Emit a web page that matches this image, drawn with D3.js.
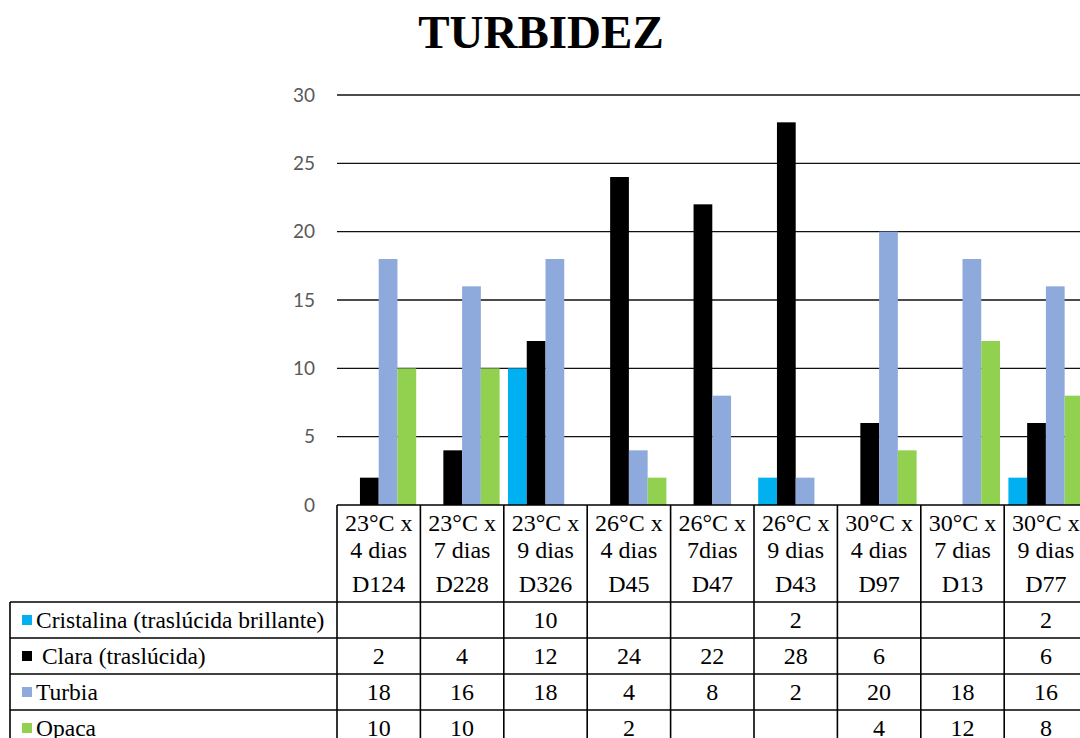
<!DOCTYPE html>
<html>
<head>
<meta charset="utf-8">
<script src="https://cdn.jsdelivr.net/npm/d3@7"></script>
<style>
  body { margin: 0; background: #fff; }
  svg { display: block; }
  .serif { font-family: "Liberation Serif", "Times New Roman", serif; }
</style>
</head>
<body>
<div id="chart"></div>
<script>
// TURBIDEZ - clustered columns with data table below

const categories = ["D124", "D228", "D326", "D45", "D47", "D43", "D97", "D13", "D77"];
const catLine1 = ["23°C x", "23°C x", "23°C x", "26°C x", "26°C x", "26°C x", "30°C x", "30°C x", "30°C x"];
const catLine2 = ["4 dias", "7 dias", "9 dias", "4 dias", "7dias", "9 dias", "4 dias", "7 dias", "9 dias"];

const seriesNames = ["Cristalina (traslúcida brillante)", " Clara (traslúcida)", "Turbia", "Opaca"];
const seriesColors = ["#00B0F0", "#000000", "#8EA9DB", "#92D050"];

const cristalina = [null, null, 10, null, null, 2, null, null, 2];
const clara = [2, 4, 12, 24, 22, 28, 6, null, 6];
const turbia = [18, 16, 18, 4, 8, 2, 20, 18, 16];
const opaca = [10, 10, null, 2, null, null, 4, 12, 8];

const yTicks = [0, 5, 10, 15, 20, 25, 30];

const seriesValues = [cristalina, clara, turbia, opaca];

const width = 1080, height = 738;
const plotLeft = 337, catStep = 83.4;
const plotTop = 95, plotBottom = 505;
const headerBottom = 602, rowH = 36;
const tableLeft = 10;

const svg = d3.select("#chart")
  .append("svg")
  .attr("width", width)
  .attr("height", height);

// ---------- Scales ----------
const x0 = d3.scaleBand()
  .domain(categories)
  .range([plotLeft, plotLeft + catStep * categories.length])
  .padding(0);

const x1 = d3.scaleBand()
  .domain(d3.range(seriesNames.length))
  .range([4.2, catStep - 4.2])
  .padding(0);

const y = d3.scaleLinear()
  .domain([0, 30])
  .range([plotBottom, plotTop]);

// ---------- Title ----------
svg.append("text")
  .attr("class", "serif")
  .attr("x", 541)
  .attr("y", 48)
  .attr("text-anchor", "middle")
  .style("font-weight", "bold")
  .style("font-size", "47px")
  .text("TURBIDEZ");

// ---------- Gridlines + Y labels ----------
const yAxis = d3.axisLeft(y)
  .tickValues(yTicks)
  .tickSize(0)
  .tickPadding(22);

const yg = svg.append("g")
  .attr("transform", `translate(${plotLeft},0)`)
  .call(yAxis);
yg.select(".domain").remove();
yg.selectAll("text")
  .style("font-family", "Lato, 'Open Sans', sans-serif")
  .style("font-size", "19px")
  .attr("fill", "#595959");

svg.append("g")
  .selectAll("line")
  .data(yTicks.filter(d => d > 0))
  .enter()
  .append("line")
  .attr("x1", plotLeft)
  .attr("x2", width)
  .attr("y1", d => y(d))
  .attr("y2", d => y(d))
  .attr("stroke", "#111")
  .attr("stroke-width", 1.4);

// ---------- Bars ----------
const barData = [];
seriesValues.forEach((vals, s) => {
  vals.forEach((v, i) => {
    if (v != null) barData.push({ s, cat: categories[i], v });
  });
});

svg.append("g")
  .selectAll("rect")
  .data(barData)
  .enter()
  .append("rect")
  .attr("x", d => x0(d.cat) + x1(d.s))
  .attr("width", x1.bandwidth())
  .attr("y", d => y(d.v))
  .attr("height", d => y(0) - y(d.v))
  .attr("fill", d => seriesColors[d.s]);

// ---------- Data table ----------
const table = svg.append("g");

const tableRight = x0.range()[1];
const lastRowBottom = headerBottom + rowH * seriesNames.length;

// horizontal lines
table.append("line")
  .attr("x1", plotLeft).attr("x2", tableRight)
  .attr("y1", plotBottom).attr("y2", plotBottom);
d3.range(seriesNames.length + 1).forEach(r => {
  table.append("line")
    .attr("x1", tableLeft).attr("x2", tableRight)
    .attr("y1", headerBottom + r * rowH).attr("y2", headerBottom + r * rowH);
});

// vertical lines
table.append("line")
  .attr("x1", tableLeft).attr("x2", tableLeft)
  .attr("y1", headerBottom).attr("y2", lastRowBottom);
d3.range(categories.length + 1).forEach(c => {
  const xx = plotLeft + c * catStep;
  table.append("line")
    .attr("x1", xx).attr("x2", xx)
    .attr("y1", plotBottom).attr("y2", lastRowBottom);
});
table.selectAll("line")
  .attr("stroke", "#000")
  .attr("stroke-width", 1.6);

// header labels
const header = table.append("g")
  .selectAll("g")
  .data(categories)
  .enter()
  .append("g")
  .attr("transform", d => `translate(${x0(d) + catStep / 2},0)`);

header.append("text")
  .attr("y", 531)
  .text((d, i) => catLine1[i]);
header.append("text")
  .attr("y", 558)
  .text((d, i) => catLine2[i]);
header.append("text")
  .attr("y", 592)
  .text(d => d);
header.selectAll("text")
  .attr("class", "serif")
  .attr("text-anchor", "middle")
  .style("font-size", "24px");

// legend column
const rows = table.append("g")
  .selectAll("g")
  .data(seriesNames)
  .enter()
  .append("g")
  .attr("transform", (d, i) => `translate(0,${headerBottom + i * rowH})`);

rows.append("rect")
  .attr("x", 22)
  .attr("y", rowH / 2 - 5)
  .attr("width", 10)
  .attr("height", 10)
  .attr("fill", (d, i) => seriesColors[i]);

rows.append("text")
  .attr("class", "serif")
  .attr("x", 36)
  .attr("y", rowH / 2 + 8)
  .style("font-size", "23.5px")
  .style("white-space", "pre")
  .text(d => d);

// values
rows.each(function(name, s) {
  d3.select(this)
    .selectAll("text.val")
    .data(seriesValues[s])
    .enter()
    .append("text")
    .attr("class", "val serif")
    .attr("x", (v, i) => x0(categories[i]) + catStep / 2)
    .attr("y", rowH / 2 + 8)
    .attr("text-anchor", "middle")
    .style("font-size", "24px")
    .text(v => v == null ? "" : v);
});
</script>
</body>
</html>
